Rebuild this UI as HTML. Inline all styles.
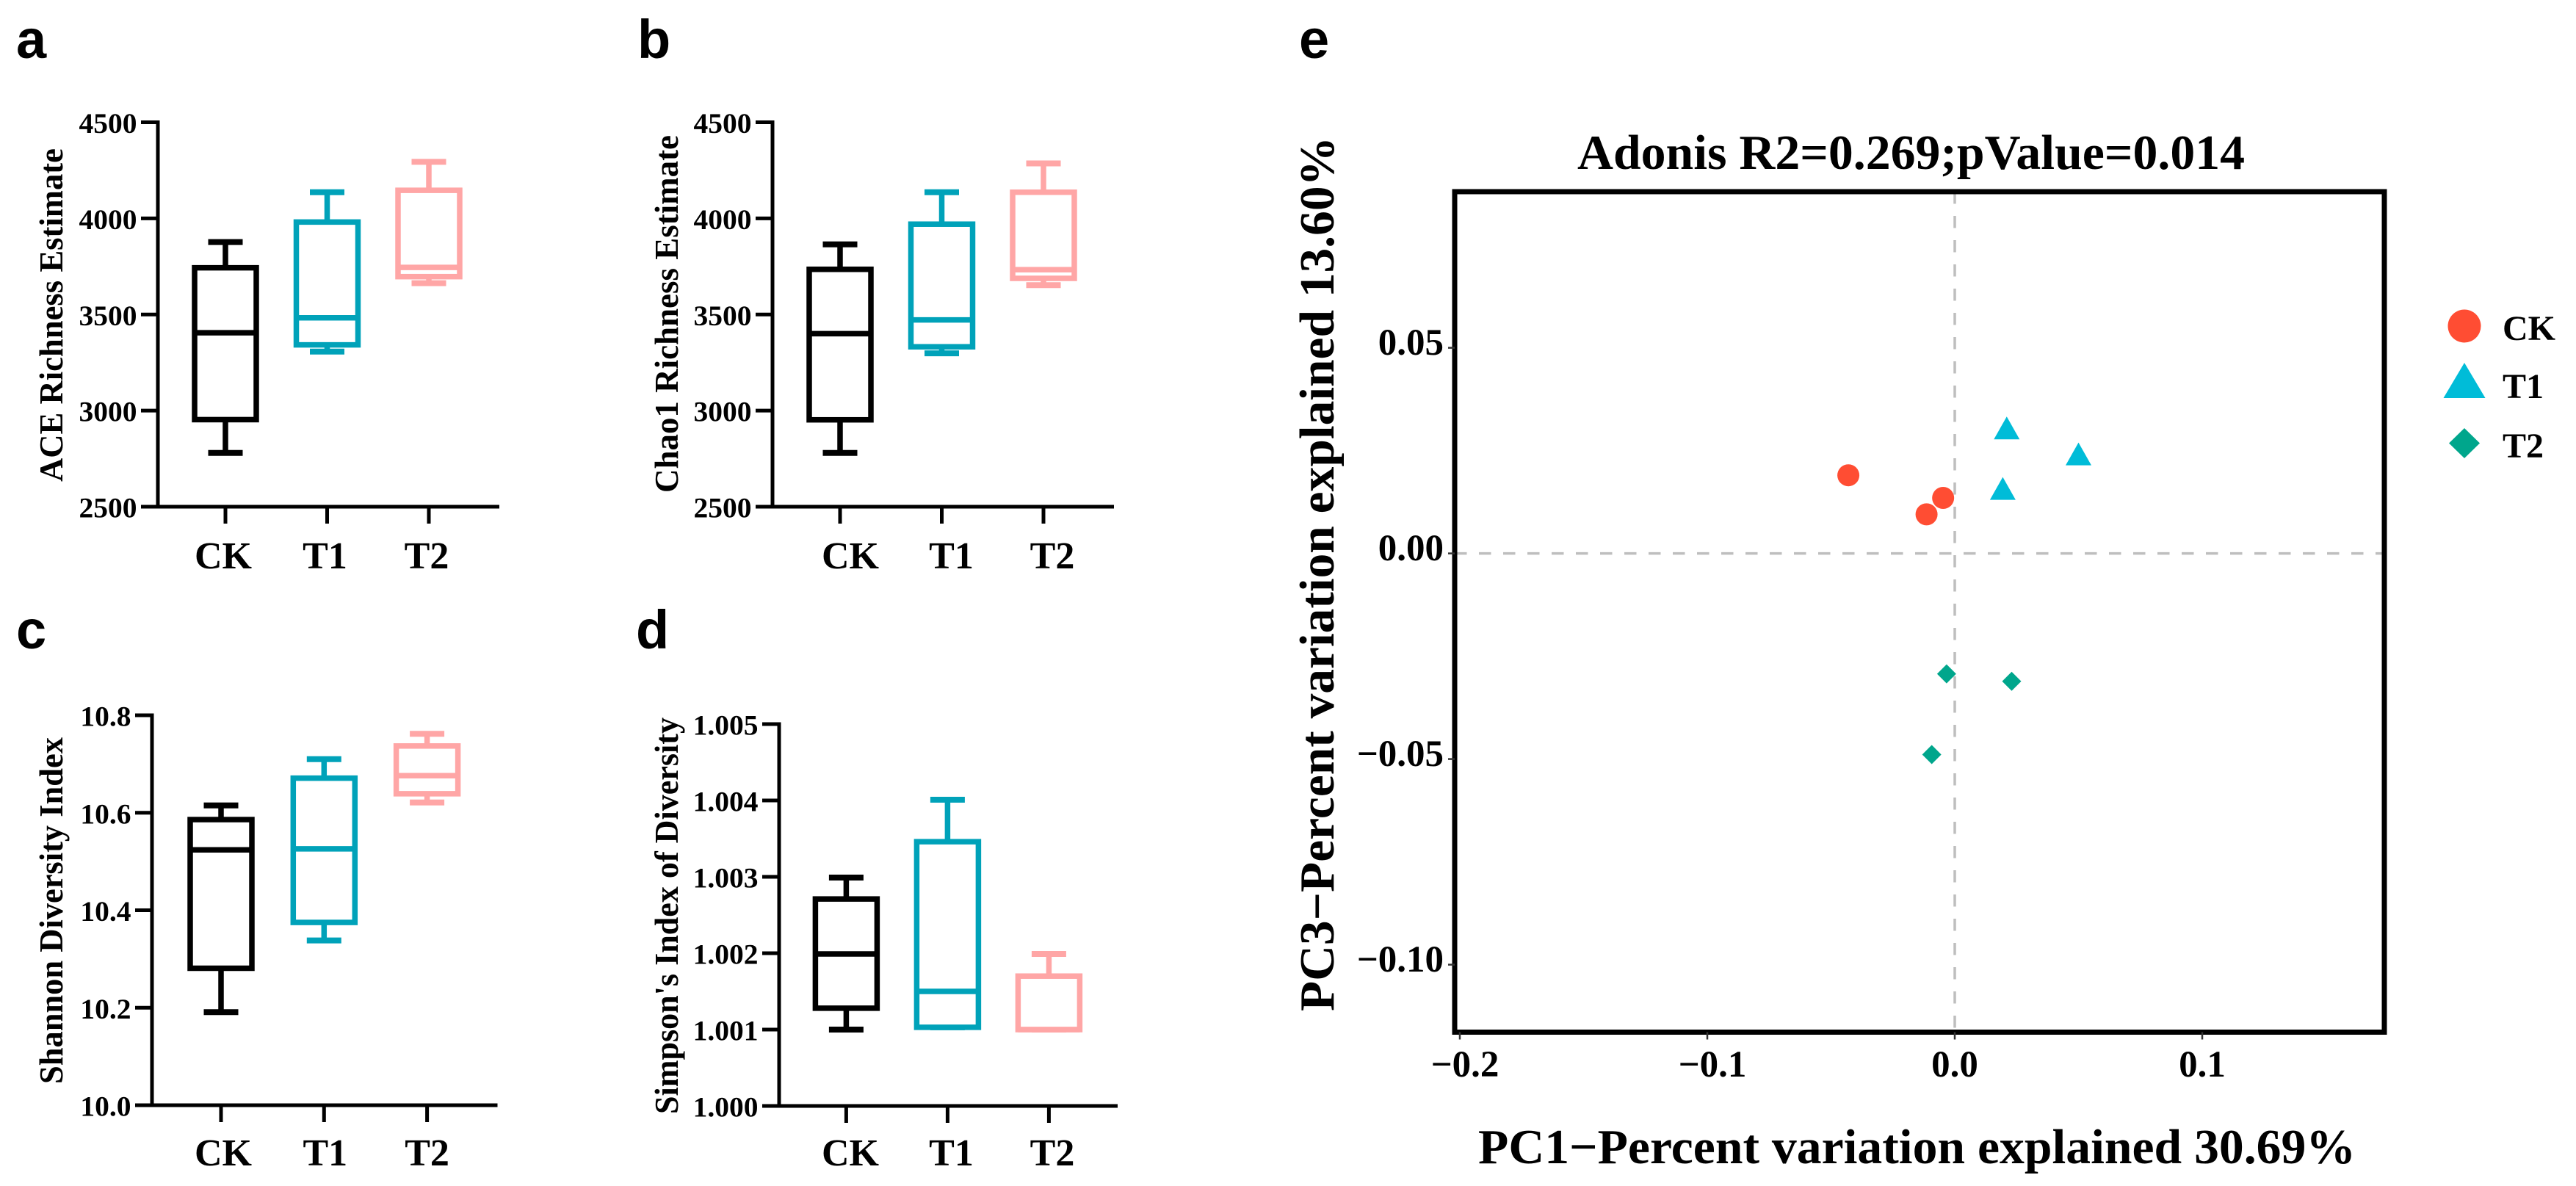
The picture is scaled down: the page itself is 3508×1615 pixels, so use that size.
<!DOCTYPE html>
<html lang="en">
<head>
<meta charset="utf-8">
<title>Alpha diversity box plots and PCoA</title>
<style>
  html, body { margin: 0; padding: 0; background: #fff; }
  svg { display: block; }
  text { font-family: "Liberation Serif", "DejaVu Serif", serif; font-weight: bold; fill: #000; }
  .letter { font-family: "Liberation Sans", "DejaVu Sans", sans-serif; font-size: 74px; }
</style>
</head>
<body>
<svg id="figure" xmlns="http://www.w3.org/2000/svg" width="3508" height="1615" viewBox="0 0 3508 1615">
  <rect x="0" y="0" width="3508" height="1615" fill="#fff"/>

  <text class="letter" x="22" y="79">a</text>
  <text class="letter" x="868" y="79">b</text>
  <text class="letter" x="22" y="883">c</text>
  <text class="letter" x="866" y="883">d</text>
  <text class="letter" x="1769" y="79">e</text>

  <text transform="translate(85,429) rotate(-90)" text-anchor="middle" font-size="46" textLength="454" lengthAdjust="spacingAndGlyphs">ACE Richness Estimate</text>
  <text transform="translate(923,427.5) rotate(-90)" text-anchor="middle" font-size="46" textLength="487" lengthAdjust="spacingAndGlyphs">Chao1 Richness Estimate</text>
  <text transform="translate(85,1240) rotate(-90)" text-anchor="middle" font-size="46" textLength="472" lengthAdjust="spacingAndGlyphs">Shannon Diversity Index</text>
  <text transform="translate(923,1247) rotate(-90)" text-anchor="middle" font-size="46" textLength="540" lengthAdjust="spacingAndGlyphs">Simpson's Index of Diversity</text>

  <text x="2148" y="230" font-size="67" textLength="909" lengthAdjust="spacingAndGlyphs">Adonis R2=0.269;pValue=0.014</text>
  <text x="2013" y="1584" font-size="67" textLength="1195" lengthAdjust="spacingAndGlyphs">PC1−Percent variation explained 30.69%</text>
  <text transform="translate(1816,781.5) rotate(-90)" text-anchor="middle" font-size="67" textLength="1191" lengthAdjust="spacingAndGlyphs">PC3−Percent variation explained 13.60%</text>

  <g>
    <circle cx="3356" cy="444" r="22.5" fill="#FF4D33"/>
    <polygon points="3356,494 3384.5,542 3327.5,542" fill="#00BCD8"/>
    <polygon points="3356,583 3377,603.5 3356,624 3335,603.5" fill="#00A68C"/>
    <text x="3408" y="463" font-size="48">CK</text>
    <text x="3408" y="542" font-size="48">T1</text>
    <text x="3408" y="623" font-size="48">T2</text>
  </g>
</svg>

<script>
// Shared categories
const categories = ["CK", "T1", "T2"];

// Box values: [low whisker, lower edge, median, upper edge, high whisker]
const aceCK = [2780, 2953, 3405, 3743, 3877];
const aceT1 = [3307, 3342, 3483, 3981, 4136];
const aceT2 = [3663, 3697, 3745, 4146, 4294];

const chaoCK = [2780, 2952, 3400, 3735, 3865];
const chaoT1 = [3298, 3332, 3472, 3970, 4136];
const chaoT2 = [3653, 3688, 3733, 4136, 4286];

const shannonCK = [10.191, 10.281, 10.524, 10.586, 10.615];
const shannonT1 = [10.338, 10.375, 10.526, 10.671, 10.71];
const shannonT2 = [10.621, 10.639, 10.676, 10.737, 10.762];

const simpsonCK = [1.0010, 1.00128, 1.00199, 1.00271, 1.00299];
const simpsonT1 = [1.00103, 1.00103, 1.0015, 1.00346, 1.00401];
const simpsonT2 = [1.0010, 1.0010, 1.0010, 1.0017, 1.00199];

// Y-axis ticks
const aceTicks = [2500, 3000, 3500, 4000, 4500];
const aceTickLabels = ["2500", "3000", "3500", "4000", "4500"];
const chaoTicks = [2500, 3000, 3500, 4000, 4500];
const chaoTickLabels = ["2500", "3000", "3500", "4000", "4500"];
const shannonTicks = [10.0, 10.2, 10.4, 10.6, 10.8];
const shannonTickLabels = ["10.0", "10.2", "10.4", "10.6", "10.8"];
const simpsonTicks = [1.000, 1.001, 1.002, 1.003, 1.004, 1.005];
const simpsonTickLabels = ["1.000", "1.001", "1.002", "1.003", "1.004", "1.005"];

// PCoA points
const ckPC1 = [-0.043, -0.0047, -0.0114];
const ckPC3 = [0.019, 0.0135, 0.0095];
const t1PC1 = [0.021, 0.05, 0.0194];
const t1PC3 = [0.0305, 0.0242, 0.0158];
const t2PC1 = [-0.0033, 0.023, -0.0093];
const t2PC3 = [-0.0293, -0.0311, -0.0489];

// PCoA axis ticks
const pc1Ticks = [-0.2, -0.1, 0.0, 0.1];
const pc1TickLabels = ["−0.2", "−0.1", "0.0", "0.1"];
const pc3Ticks = [-0.10, -0.05, 0.00, 0.05];
const pc3TickLabels = ["−0.10", "−0.05", "0.00", "0.05"];

const NS = "http://www.w3.org/2000/svg";
const figure = document.getElementById("figure");
const groupColors = ["#000000", "#00A2B9", "#FFA6A6"];

function make(tag, parent, name) {
  const el = document.createElementNS(NS, tag);
  
  
  parent.appendChild(el);
  return el;
}

function line(parent, name, x1, y1, x2, y2, color, width) {
  const el = make("line", parent, name);
  el.setAttribute("x1", x1);
  el.setAttribute("y1", y1);
  el.setAttribute("x2", x2);
  el.setAttribute("y2", y2);
  el.setAttribute("stroke", color);
  el.setAttribute("stroke-width", width);
  return el;
}

function label(parent, name, x, y, str, size, anchor) {
  const el = make("text", parent, name);
  el.setAttribute("x", x);
  el.setAttribute("y", y);
  el.setAttribute("font-size", size);
  el.setAttribute("text-anchor", anchor);
  el.textContent = str;
  return el;
}

function boxPanel(cfg) {
  const g = make("g", figure, cfg.name);
  const lo = cfg.ticks[0];
  const hi = cfg.ticks[cfg.ticks.length - 1];
  const yScale = v => cfg.bottom - (v - lo) / (hi - lo) * (cfg.bottom - cfg.top);
  const xScale = i => cfg.cat0 + i * cfg.step;

  cfg.series.forEach((vals, i) => {
    const c = groupColors[i];
    const x = xScale(i);
    const key = categories[i].toLowerCase();
    const sg = make("g", g, cfg.name + "-box-" + key);
    const yLow = yScale(vals[0]);
    const yQ1 = yScale(vals[1]);
    const yMed = yScale(vals[2]);
    const yQ3 = yScale(vals[3]);
    const yHigh = yScale(vals[4]);
    line(sg, "whisker-upper", x, yHigh, x, yQ3, c, 7.5);
    line(sg, "whisker-lower", x, yQ1, x, yLow, c, 7.5);
    line(sg, "cap-upper", x - 23.5, yHigh, x + 23.5, yHigh, c, 8);
    line(sg, "cap-lower", x - 23.5, yLow, x + 23.5, yLow, c, 8);
    const rect = make("rect", sg, "box");
    rect.setAttribute("x", x - 42);
    rect.setAttribute("y", yQ3);
    rect.setAttribute("width", 84);
    rect.setAttribute("height", yQ1 - yQ3);
    rect.setAttribute("fill", "#fff");
    rect.setAttribute("stroke", c);
    rect.setAttribute("stroke-width", 7.5);
    line(sg, "median", x - 42, yMed, x + 42, yMed, c, 7.5);
  });

  line(g, "y-axis-line", cfg.axisX, cfg.top - 2.5, cfg.axisX, cfg.bottom + 2.5, "#000", 5);
  line(g, "x-axis-line", cfg.axisX - 23, cfg.bottom, cfg.xEnd, cfg.bottom, "#000", 5);

  cfg.ticks.forEach((t, i) => {
    const y = yScale(t);
    line(g, "y-tick", cfg.axisX - 23, y, cfg.axisX, y, "#000", 5);
    label(g, "y-tick-label", cfg.axisX - 28.5, y + 14.5, cfg.tickLabels[i], 39.5, "end");
  });

  categories.forEach((cat, i) => {
    line(g, "x-tick", xScale(i), cfg.bottom, xScale(i), cfg.bottom + 23, "#000", 5);
    label(g, "x-tick-label", cfg.label0 + i * cfg.labelStep, cfg.catBase, cat, 52, "middle");
  });
}

boxPanel({ name: "ace-chart", ticks: aceTicks, tickLabels: aceTickLabels, series: [aceCK, aceT1, aceT2],
  axisX: 215, top: 166.5, bottom: 690, xEnd: 680, cat0: 307, step: 138.5, label0: 304, labelStep: 138.5, catBase: 774 });
boxPanel({ name: "chao1-chart", ticks: chaoTicks, tickLabels: chaoTickLabels, series: [chaoCK, chaoT1, chaoT2],
  axisX: 1052, top: 166.5, bottom: 690, xEnd: 1517, cat0: 1144, step: 138.5, label0: 1158, labelStep: 137.5, catBase: 774 });
boxPanel({ name: "shannon-chart", ticks: shannonTicks, tickLabels: shannonTickLabels, series: [shannonCK, shannonT1, shannonT2],
  axisX: 207, top: 974, bottom: 1505, xEnd: 677.5, cat0: 301, step: 140.3, label0: 304, labelStep: 138.8, catBase: 1587 });
boxPanel({ name: "simpson-chart", ticks: simpsonTicks, tickLabels: simpsonTickLabels, series: [simpsonCK, simpsonT1, simpsonT2],
  axisX: 1061, top: 986, bottom: 1506, xEnd: 1522, cat0: 1152.4, step: 138, label0: 1158, labelStep: 137.5, catBase: 1587 });

// PCoA scatter
const pX = v => 2662 + v * 3370;
const pY = v => 753.6 - v * 5600;
const pLeft = 1981, pRight = 3247, pTop = 261, pBottom = 1405.5;
const pcoa = make("g", figure, "pcoa-chart");

const dashH = line(pcoa, "zero-line-horizontal", pLeft, pY(0), pRight, pY(0), "#BEBEBE", 3.5);
dashH.setAttribute("stroke-dasharray", "16.5 16.5");
const dashV = line(pcoa, "zero-line-vertical", pX(0), pTop, pX(0), pBottom + 8, "#BEBEBE", 3.5);
dashV.setAttribute("stroke-dasharray", "16.5 16.5");

const frame = make("rect", pcoa, "plot-frame");
frame.setAttribute("x", pLeft);
frame.setAttribute("y", pTop);
frame.setAttribute("width", pRight - pLeft);
frame.setAttribute("height", pBottom - pTop);
frame.setAttribute("fill", "none");
frame.setAttribute("stroke", "#000");
frame.setAttribute("stroke-width", 7);

pc3Ticks.forEach((t, i) => {
  line(pcoa, "pcoa-y-tick", pLeft - 9, pY(t), pLeft, pY(t), "#333", 2.5);
  label(pcoa, "pcoa-y-tick-label", pLeft - 15, pY(t) + 9.5, pc3TickLabels[i], 51, "end");
});
pc1Ticks.forEach((t, i) => {
  line(pcoa, "pcoa-x-tick", pX(t), pBottom, pX(t), pBottom + 10, "#333", 2.5);
  label(pcoa, "pcoa-x-tick-label", pX(t) + (t < 0 ? 7 : 0), 1466, pc1TickLabels[i], 51, "middle");
});

ckPC1.forEach((v, i) => {
  const c = make("circle", pcoa, "point-ck");
  c.setAttribute("cx", pX(v));
  c.setAttribute("cy", pY(ckPC3[i]));
  c.setAttribute("r", 15);
  c.setAttribute("fill", "#FF4D33");
});
t1PC1.forEach((v, i) => {
  const x = pX(v), y = pY(t1PC3[i]);
  const t = make("polygon", pcoa, "point-t1");
  t.setAttribute("points", [x, y - 15.5, x + 17.5, y + 15.5, x - 17.5, y + 15.5].join(" "));
  t.setAttribute("fill", "#00BCD8");
});
t2PC1.forEach((v, i) => {
  const x = pX(v), y = pY(t2PC3[i]);
  const d = make("polygon", pcoa, "point-t2");
  d.setAttribute("points", [x, y - 13, x + 13, y, x, y + 13, x - 13, y].join(" "));
  d.setAttribute("fill", "#00A68C");
});
</script>
</body>
</html>
